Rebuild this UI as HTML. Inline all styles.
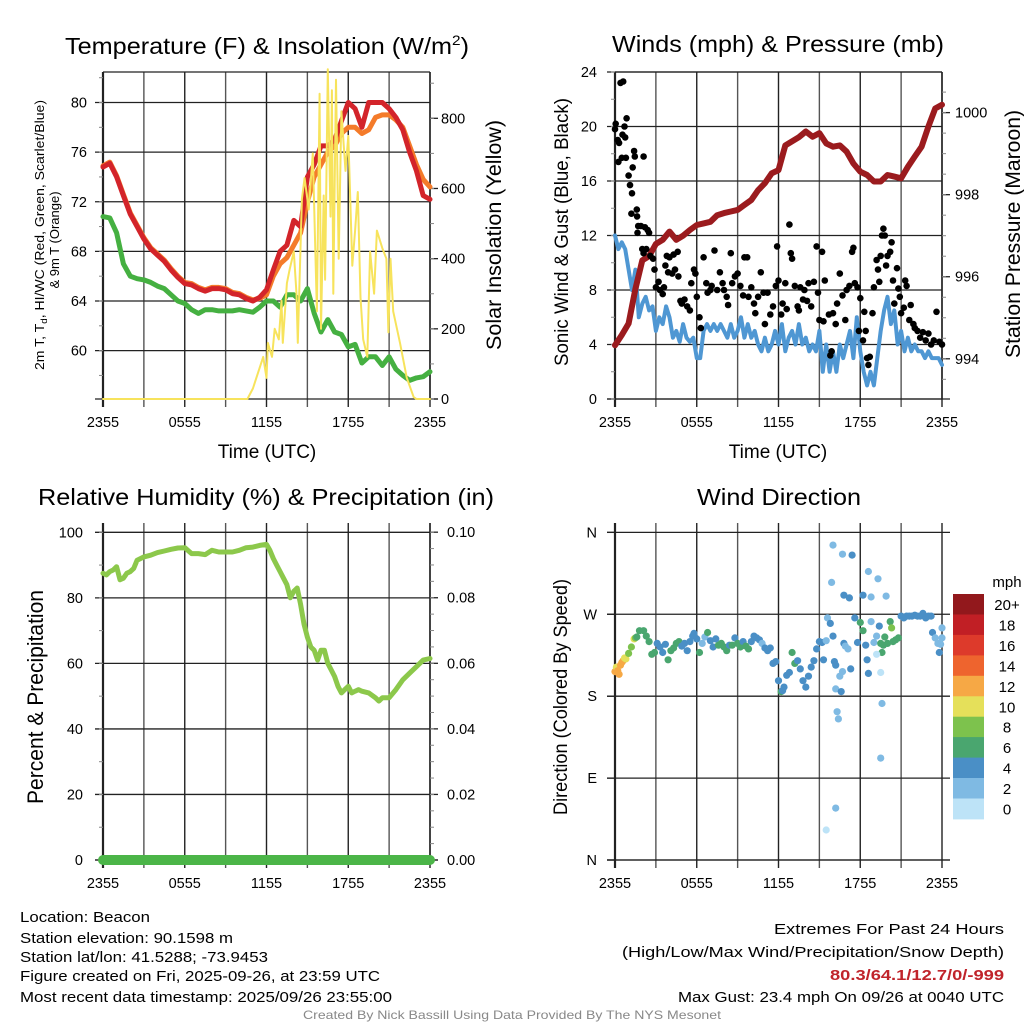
<!DOCTYPE html>
<html><head><meta charset="utf-8"><style>
html,body{margin:0;padding:0;background:#fff;}
svg{display:block;font-family:"Liberation Sans",sans-serif;}
</style></head><body>
<svg id="c" width="1024" height="1024" viewBox="0 0 1024 1024" xmlns="http://www.w3.org/2000/svg">
<rect width="1024" height="1024" fill="#fff"/>
<g id="layer"></g>
<text x="267" y="54" font-size="23" text-anchor="middle" textLength="404" lengthAdjust="spacingAndGlyphs">Temperature (F) &amp; Insolation (W/m<tspan font-size="14" dy="-9">2</tspan><tspan dy="9">)</tspan></text>
<text x="778" y="52" font-size="23" text-anchor="middle" textLength="332" lengthAdjust="spacingAndGlyphs">Winds (mph) &amp; Pressure (mb)</text>
<text x="266" y="505" font-size="23" text-anchor="middle" textLength="456" lengthAdjust="spacingAndGlyphs">Relative Humidity (%) &amp; Precipitation (in)</text>
<text x="779" y="505" font-size="23" text-anchor="middle" textLength="164" lengthAdjust="spacingAndGlyphs">Wind Direction</text>
<text x="267" y="458" font-size="19" text-anchor="middle">Time (UTC)</text>
<text x="778" y="458" font-size="19" text-anchor="middle">Time (UTC)</text>
<text transform="translate(44,235) rotate(-90)" font-size="13" text-anchor="middle" textLength="270" lengthAdjust="spacingAndGlyphs">2m T, T<tspan font-size="9" dy="3">d</tspan><tspan dy="-3">, HI/WC (Red, Green, Scarlet/Blue)</tspan></text>
<text transform="translate(59,240) rotate(-90)" font-size="13" text-anchor="middle">&amp; 9m T (Orange)</text>
<text transform="translate(501,235) rotate(-90)" font-size="21" text-anchor="middle" textLength="230" lengthAdjust="spacingAndGlyphs">Solar Insolation (Yellow)</text>
<text transform="translate(568,232) rotate(-90)" font-size="19" text-anchor="middle" textLength="268" lengthAdjust="spacingAndGlyphs">Sonic Wind &amp; Gust (Blue, Black)</text>
<text transform="translate(1020,234) rotate(-90)" font-size="21" text-anchor="middle" textLength="248" lengthAdjust="spacingAndGlyphs">Station Pressure (Maroon)</text>
<text transform="translate(43,697) rotate(-90)" font-size="22" text-anchor="middle" textLength="214" lengthAdjust="spacingAndGlyphs">Percent &amp; Precipitation</text>
<text transform="translate(567,697) rotate(-90)" font-size="19" text-anchor="middle" textLength="236" lengthAdjust="spacingAndGlyphs">Direction (Colored By Speed)</text>
<text x="1007" y="587" font-size="15" text-anchor="middle">mph</text>
<g font-size="15">
<text x="20" y="922" textLength="130" lengthAdjust="spacingAndGlyphs">Location: Beacon</text>
<text x="20" y="943" textLength="213" lengthAdjust="spacingAndGlyphs">Station elevation: 90.1598 m</text>
<text x="20" y="962" textLength="248" lengthAdjust="spacingAndGlyphs">Station lat/lon: 41.5288; -73.9453</text>
<text x="20" y="981" textLength="360" lengthAdjust="spacingAndGlyphs">Figure created on Fri, 2025-09-26, at 23:59 UTC</text>
<text x="20" y="1002" textLength="372" lengthAdjust="spacingAndGlyphs">Most recent data timestamp: 2025/09/26 23:55:00</text>
</g>
<g font-size="15">
<text x="774" y="934" textLength="230" lengthAdjust="spacingAndGlyphs">Extremes For Past 24 Hours</text>
<text x="622" y="957" textLength="382" lengthAdjust="spacingAndGlyphs">(High/Low/Max Wind/Precipitation/Snow Depth)</text>
<text x="830" y="980" font-weight="bold" fill="#c0242b" textLength="174" lengthAdjust="spacingAndGlyphs">80.3/64.1/12.7/0/-999</text>
<text x="678" y="1002" textLength="326" lengthAdjust="spacingAndGlyphs">Max Gust: 23.4 mph On 09/26 at 0040 UTC</text>
</g>
<text x="303" y="1019" font-size="12" fill="#888" textLength="418" lengthAdjust="spacingAndGlyphs">Created By Nick Bassill Using Data Provided By The NYS Mesonet</text>
</svg>
<script>
const halfHours = [0,0.5,1,1.5,2,2.5,3,3.5,4,4.5,5,5.5,6,6.5,7,7.5,8,8.5,9,9.5,10,10.5,11,11.5,12,12.5,13,13.5,14,14.5,15,15.5,16,16.5,17,17.5,18,18.5,19,19.5,20,20.5,21,21.5,22,22.5,23,23.5,24];
const tempRed = [74.8,75.1,74,72.5,71,70,69,68.2,67.7,67.2,66.5,65.9,65.4,65.3,65.0,64.8,65.0,65.0,64.9,64.6,64.5,64.2,64.0,64.3,64.9,66.5,68,68.5,70.5,70,74,75,76.5,76.5,77,78.5,80,79.5,78,80,80,80,79.5,78.8,77.8,76,74.5,72.5,72.2];
const temp9m = [74.9,75.2,74.1,72.6,71.1,70.1,69.1,68.3,67.8,67.3,66.6,66.0,65.5,65.4,65.1,64.9,65.1,65.1,65.0,64.7,64.6,64.3,64.1,64.2,64.5,66,67,67.5,68.5,69.5,72,74,75,76,76.5,77.5,78,78,77.5,77.8,78.8,79,79,78.6,78,76.5,75,73.8,73.2];
const dewpoint = [70.8,70.7,69.5,67,66,65.8,65.7,65.5,65.2,65,64.5,64,63.8,63.3,63,63.3,63.3,63.2,63.2,63.2,63.3,63.2,63.1,63.5,64,64,63.5,64.5,64.5,64,65,63,61.5,62.5,61.5,61.3,60.3,60.5,59,59.5,59.5,58.8,59.5,58.5,58,57.6,57.8,57.9,58.3];
const solarHours = [0,10.6,11.0,11.76,12.0,12.1,12.4,12.6,12.9,13.1,13.2,13.5,13.7,14.0,14.2,14.3,14.6,14.8,15.1,15.4,15.7,15.9,16.0,16.2,16.3,16.5,16.7,16.8,16.9,17.1,17.3,17.5,17.8,18.0,18.3,18.5,18.7,18.9,19.1,19.4,19.6,19.9,20.1,20.5,20.8,20.95,21.1,21.3,21.8,22.3,22.8,23.0,24];
const solarValues = [0,0,30,120,60,160,120,200,170,280,160,330,370,420,300,160,570,630,540,700,250,870,200,580,340,940,520,880,300,910,400,820,650,750,380,480,590,290,170,120,420,300,480,430,400,190,400,250,160,60,5,0,0];
const pressure = [994.33,994.58,994.86,995.7,996.4,996.5,996.8,996.9,997.1,996.9,997.0,997.14,997.26,997.3,997.34,997.5,997.55,997.59,997.63,997.75,997.87,998.11,998.28,998.52,998.6,999.2,999.3,999.4,999.54,999.41,999.5,999.25,999.17,999.2,999.05,998.76,998.56,998.48,998.32,998.32,998.48,998.44,998.4,998.68,998.93,999.17,999.66,1000.1,1000.19];
const windHours = [0,0.25,0.5,0.75,1,1.25,1.5,1.75,2,2.25,2.5,2.75,3,3.25,3.5,3.75,4,4.25,4.5,4.75,5,5.25,5.5,5.75,6,6.25,6.5,6.75,7,7.25,7.5,7.75,8,8.25,8.5,8.75,9,9.25,9.5,9.75,10,10.25,10.5,10.75,11,11.25,11.5,11.75,12,12.25,12.5,12.75,13,13.25,13.5,13.75,14,14.25,14.5,14.75,15,15.25,15.5,15.75,16,16.25,16.5,16.75,17,17.25,17.5,17.75,18,18.25,18.5,18.75,19,19.25,19.5,19.75,20,20.25,20.5,20.75,21,21.25,21.5,21.75,22,22.25,22.5,22.75,23,23.25,23.5,23.75,24];
const windSpeed = [12,11,11.5,11,9.5,8,9.5,6,7,7.5,6.5,6.8,5,6,5.5,6.8,6,4.5,5,4.2,5.5,4.5,4.2,4.5,3,3,5,5.5,5,5.5,5,5.5,5,4.5,5.5,4.5,5,6,4.5,5.5,4.5,5,4,3.5,4.5,3.5,4,5,4,5.5,3.5,4.5,5,4,5.5,4,4.5,3.5,4,3.5,5,2,4,2,3.5,2,4,3,4,5,3,6,3.5,2,1,2,1,3,5,6.5,7.5,5.5,6.5,4,5,3.5,4.5,3.5,4,3.5,3.5,3,3.5,3,3,3,2.5];
const gustHours = [0,0.05,0.2,0.3,0.25,0.4,0.6,0.55,0.75,0.7,0.85,0.5,0.8,1.0,1.1,1.25,1.3,1.4,1.45,1.2,1.6,1.62,1.65,1.7,1.9,2.1,2.2,2.4,2.5,2.0,2.1,2.3,2.6,2.8,2.9,3.0,3.2,3.3,3.5,3.6,3.7,3.8,3.9,4.0,4.2,4.3,4.4,4.6,4.65,4.8,4.9,5.1,5.3,5.5,5.6,5.8,5.9,6.0,6.2,6.3,6.5,6.7,6.8,7.0,7.1,7.3,7.5,7.7,7.9,8.0,8.2,8.3,8.5,8.6,8.8,9.0,9.2,9.4,9.5,9.7,9.8,10.0,10.2,10.3,10.5,10.7,10.9,11.0,11.2,11.4,11.6,11.8,11.9,12.0,12.2,12.3,12.5,12.6,12.8,12.9,13.0,13.2,13.4,13.5,13.6,13.8,13.9,14.1,14.2,14.4,14.6,14.8,14.9,15.0,15.2,15.3,15.4,15.7,15.8,15.9,16.0,16.2,16.3,16.5,16.7,16.9,17.0,17.2,17.4,17.5,17.6,17.8,17.9,18.0,18.2,18.3,18.4,18.5,18.6,18.7,18.9,19.0,19.2,19.3,19.4,19.5,19.6,19.7,19.8,19.9,20.0,20.2,20.3,20.4,20.5,20.7,20.8,20.9,21.0,21.2,21.3,21.4,21.6,21.7,21.9,22.0,22.2,22.4,22.6,22.8,23.0,23.2,23.4,23.6,23.8,24];
const gustValues = [19.8,20.2,19,18.8,17.4,23.2,23.3,19.4,19.2,20,20.6,17.7,17.7,16.4,15.7,15.1,17,18.2,17.8,13.6,13.9,13.4,12.2,12.7,12.7,17.8,12.6,12.4,12.2,11,10.7,11,10.5,10.3,9.5,8.2,8.6,8,7.7,8.2,9.8,10.5,9.3,10.4,9.2,10.6,9.5,10.8,9,7.2,7,7.3,6.8,6.5,8.5,9.5,9.2,7.5,6,5.2,10.4,8.5,7.8,8,8.3,10.9,8,9.3,8.5,8,7.5,6.9,10.7,8.5,9,9.2,8.3,7.6,10.4,10.4,7.5,8.2,7,6.3,7.5,9.3,7.8,5.5,7.8,6.2,6.8,8.3,11.2,8.7,6.2,7,8.5,6.6,12.8,10.7,10.3,8.3,6.8,6.5,8.2,7.3,8,7.2,8.5,6.8,8.6,11.2,7.8,5.8,10.8,5.7,8.7,6.2,3.2,3.5,6.3,5.5,7,9.2,7.6,5.8,8,8.3,10.8,11.1,8.5,8.2,5,7.4,4.3,6.4,5,3,2.5,3.1,6.3,8.2,10.2,9.5,8.6,10.5,12,12.5,12,9.8,10.5,10.8,11.5,8.7,7,9.6,8.1,7.5,6.3,6.7,8.7,8.3,5.8,6.9,5.5,5.2,5,4.5,4.9,4.3,4.8,4,4.3,6.4,4.2,4.0];
const rhHours = [0,0.25,0.5,0.75,1,1.25,1.5,1.75,2,2.25,2.5,3,3.5,4,4.5,5,5.5,6,6.5,7,7.5,8,8.5,9,9.5,10,10.5,11,11.5,12,12.25,12.5,12.75,13,13.25,13.5,13.75,14,14.25,14.5,14.75,15,15.25,15.5,15.75,16,16.25,16.5,16.75,17,17.25,17.5,17.75,18,18.25,18.5,18.75,19,19.5,20,20.25,20.5,20.75,21,21.5,22,22.5,23,23.5,24];
const rhValues = [87.5,87,88,88.5,89.5,85.5,86,87.5,88,89,91.5,92.5,93,93.8,94.3,94.8,95.2,95.3,93.5,93.5,93.2,94.5,94,94,94,94.5,95.3,95.5,96,96.3,94.5,92,90,88,86,84,80,82,83,78,72,68,65,64,61,64,64,60,58,56,53,51,52,53,51,51.5,52,51.5,51,49.5,48.5,49.5,49.5,49.5,52,55,57,59,61,61.5];
const precipHours = [0,24];
const precipValues = [0,0];
const dirHours = [0.0,0.1,0.2,0.3,0.4,0.5,0.6,0.7,0.8,1.0,1.2,1.4,1.5,1.6,1.8,2.1,2.3,2.5,2.7,2.9,3.1,3.3,3.5,3.7,3.9,4.1,4.3,4.5,4.7,4.9,5.1,5.3,5.5,5.7,5.8,6.0,6.2,6.4,6.6,6.8,7.0,7.2,7.4,7.6,7.8,8.0,8.2,8.4,8.6,8.8,9.0,9.2,9.4,9.6,9.8,10.0,10.2,10.4,10.6,10.8,11.0,11.2,11.4,11.6,11.8,12.0,12.2,12.3,12.4,12.6,12.8,13.0,13.2,13.4,13.6,13.8,14.0,14.2,14.4,14.6,14.8,15.0,15.2,15.3,15.5,15.6,15.8,16.0,16.1,16.2,16.5,16.8,16.9,17.1,17.3,17.6,17.8,18.0,18.2,18.4,18.5,18.6,18.8,19.0,19.2,19.4,19.5,19.6,19.7,19.8,20.0,20.2,20.3,20.4,20.6,20.8,21.0,21.2,21.4,21.6,21.8,22.0,22.2,22.4,22.6,22.8,23.0,23.2,23.3,23.5,23.7,23.8,23.9,24.0,24.0,16.0,16.7,17.4,18.6,19.3,15.9,16.8,17.2,18.2,18.8,19.9,16.2,15.5,19.5,19.6,16.2,16.6,16.3,16.4,16.7,19.5,19.2];
const dirDegrees = [207,212,208,204,214,217,219,222,221,227,234,243,244,245,252,252,246,240,226,228,238,234,228,237,220,230,233,238,240,235,238,230,240,246,249,243,228,238,245,250,241,234,243,236,238,234,230,236,236,244,238,234,240,235,232,240,246,244,242,238,233,230,233,216,218,197,185,186,190,203,206,228,216,219,210,197,190,202,212,219,232,240,239,220,241,266,260,246,218,214,202,238,235,232,210,266,239,261,252,236,220,205,262,239,246,257,238,228,236,245,238,262,255,240,242,244,268,266,268,268,268,269,268,268,271,266,268,268,250,244,238,228,237,244,255,346,336,335,317,309,305,291,288,291,289,290,57,33,112,172,188,185,163,155,207,206,226];
const dirSpeedBin = [6,5,6,6,6,6,6,5,5,4,4,5,4,3,3,3,3,3,3,3,2,2,2,2,3,3,3,3,3,2,2,2,2,2,2,2,3,1,1,3,2,2,2,3,3,3,3,2,3,2,3,3,2,3,3,2,2,2,2,1,2,2,2,2,2,2,3,2,2,2,2,3,3,2,2,2,2,2,2,2,2,2,2,2,1,1,2,2,2,2,1,2,1,1,2,2,2,3,3,2,2,2,1,1,1,2,3,3,3,3,3,3,4,3,3,3,2,2,2,2,2,2,2,2,2,2,2,2,2,1,1,2,1,1,1,1,1,2,1,1,1,2,2,2,1,1,1,0,1,1,1,2,1,1,1,0,0];
const speedColors = ["#bde3f7","#7fbae3","#4a8fc6","#4aa66f","#7dc24d","#e5e05a","#f6a845","#ee642e","#dd3a2b","#c11f25","#92181c"];
const speedLabels = ["0","2","4","6","8","10","12","14","16","18","20+"];
const tempTicks = [60,64,68,72,76,80];
const solarTicks = [0,200,400,600,800];
const windTicks = [0,4,8,12,16,20,24];
const pressureTicks = [994,996,998,1000];
const rhTicks = [0,20,40,60,80,100];
const precipTicks = [0,0.02,0.04,0.06,0.08,0.10];
const precipTickLabels = ["0.00","0.02","0.04","0.06","0.08","0.10"];
const dirTicks = [0,90,180,270,360];
const dirTickLabels = ["N","E","S","W","N"];
const timeTicks = [0,6,12,18,24];
const timeTickLabels = ["2355","0555","1155","1755","2355"];

const NS='http://www.w3.org/2000/svg';
const layer=document.getElementById('layer');
function mk(tag,attrs,parent){const e=document.createElementNS(NS,tag);for(const k in attrs)e.setAttribute(k,attrs[k]);(parent||layer).appendChild(e);return e;}

const P1={x0:103,x1:430,yt:72,yb:399};
const P2={x0:615,x1:942,yt:72,yb:399};
const P3={x0:103,x1:430,yt:523,yb:860};
const P4={x0:615,x1:942,yt:523,yb:860};
const tempDom=[56.1,82.46], solarDom=[0,932], windDom=[0,24], presDom=[993.02,1000.99], rhDom=[0,102.84], precipDom=[0,0.1028], dirDom=[0,370.3];
function X(p,h){return p.x0+h/24*(p.x1-p.x0);}
function Y(p,d,v){return p.yb-(v-d[0])/(d[1]-d[0])*(p.yb-p.yt);}

function frame(p,name,topLine){
  const g=mk('g',{});
  
  
  for(let h=0;h<=24;h+=3){
    const x=X(p,h);
    const v=mk('line',{x1:x,y1:p.yt,x2:x,y2:p.yb+8,stroke:(h%6===0)?'#222':'#555','stroke-width':(h===0)?2.2:1.4},g);
    
    
  }
  if(topLine){
    const t=mk('line',{x1:p.x0,y1:p.yt,x2:p.x1,y2:p.yt,stroke:'#222','stroke-width':1.3},g);
    
    
  }
  const b=mk('line',{x1:p.x0-8,y1:p.yb,x2:p.x1+8,y2:p.yb,stroke:'#222','stroke-width':1.3},g);
  
  
  for(let i=0;i<timeTicks.length;i++){
    const t=mk('text',{x:X(p,timeTicks[i]),y:p.yb+28,'font-size':14.5,'text-anchor':'middle'},g);
    
    
    t.textContent=timeTickLabels[i];
  }
}
function leftAxis(p,dom,ticks,labels,minorStep,name,grid,lx){
  const g=mk('g',{});
  
  
  for(let i=0;i<ticks.length;i++){
    const y=Y(p,dom,ticks[i]);
    const l=mk('line',{x1:p.x0-8,y1:y,x2:grid?p.x1:p.x0,y2:y,stroke:'#222','stroke-width':1.3},g);
    
    
    const t=mk('text',{x:lx,y:y+5,'font-size':14.5,'text-anchor':'end'},g);
    
    
    t.textContent=labels?labels[i]:String(ticks[i]);
  }
  if(minorStep){
    for(let v=Math.ceil(dom[0]/minorStep)*minorStep;v<=dom[1];v+=minorStep){
      const y=Y(p,dom,v);
      const m=mk('line',{x1:p.x0-4,y1:y,x2:p.x0,y2:y,stroke:'#888','stroke-width':1},g);
      
      
    }
  }
}
function rightAxis(p,dom,ticks,labels,minorStep,name,lx){
  const g=mk('g',{});
  
  
  const ax=mk('line',{x1:p.x1,y1:p.yt,x2:p.x1,y2:p.yb,stroke:'#222','stroke-width':1.5},g);
  
  
  for(let i=0;i<ticks.length;i++){
    const y=Y(p,dom,ticks[i]);
    const l=mk('line',{x1:p.x1,y1:y,x2:p.x1+8,y2:y,stroke:'#222','stroke-width':1.3},g);
    
    
    const t=mk('text',{x:lx,y:y+5,'font-size':14.5},g);
    
    
    t.textContent=labels?labels[i]:String(ticks[i]);
  }
  for(let v=Math.ceil(dom[0]/minorStep-1e-9)*minorStep;v<=dom[1];v+=minorStep){
    const y=Y(p,dom,v);
    const m=mk('line',{x1:p.x1,y1:y,x2:p.x1+4,y2:y,stroke:'#888','stroke-width':1},g);
    
    
  }
}
function line(p,dom,hs,vs,color,w,name){
  let d='';
  for(let i=0;i<hs.length;i++){d+=(i?'L':'M')+X(p,hs[i]).toFixed(1)+','+Y(p,dom,vs[i]).toFixed(1);}
  const e=mk('path',{d:d,fill:'none',stroke:color,'stroke-width':w,'stroke-linejoin':'round','stroke-linecap':'round'});
  
  
  return e;
}

frame(P1,'temperature',true);
leftAxis(P1,tempDom,tempTicks,null,2,'temperature-y-axis',true,87);
rightAxis(P1,solarDom,solarTicks,null,100,'solar-y-axis',441);
line(P1,tempDom,halfHours,dewpoint,'#45b041',5,'dewpoint-line');
line(P1,tempDom,halfHours,temp9m,'#f47b2a',5,'temperature-9m-line');
line(P1,tempDom,halfHours,tempRed,'#d3242a',5,'temperature-2m-line');
line(P1,solarDom,solarHours,solarValues,'#f7e35c',2,'solar-insolation-line');

frame(P2,'winds',true);
leftAxis(P2,windDom,windTicks,null,2,'wind-y-axis',true,597);
rightAxis(P2,presDom,pressureTicks,null,0.5,'pressure-y-axis',955);
line(P2,windDom,windHours,windSpeed,'#4f97d3',4,'sonic-wind-line');
line(P2,presDom,halfHours,pressure,'#9b1b1e',6,'pressure-line');
for(let i=0;i<gustHours.length;i++){
  const c=mk('circle',{cx:X(P2,gustHours[i]).toFixed(1),cy:Y(P2,windDom,gustValues[i]).toFixed(1),r:3.3,fill:'#000'});
  
  
}

frame(P3,'humidity',false);
leftAxis(P3,rhDom,rhTicks,null,10,'humidity-y-axis',true,83);
rightAxis(P3,precipDom,precipTicks,precipTickLabels,0.005,'precipitation-y-axis',447);
line(P3,rhDom,rhHours,rhValues,'#8cc84b',5,'relative-humidity-line');
line(P3,precipDom,precipHours,precipValues,'#4bb548',10,'precipitation-line');

frame(P4,'wind-direction',false);
leftAxis(P4,dirDom,dirTicks,dirTickLabels,0,'direction-y-axis',false,597);
const gl=mk('g',{});


for(let i=0;i<dirTicks.length;i++){
  const y=Y(P4,dirDom,dirTicks[i]);
  const l=mk('line',{x1:P4.x0-8,y1:y,x2:P4.x1+8,y2:y,stroke:'#222','stroke-width':1.3},gl);
  
  
}
for(let i=0;i<dirHours.length;i++){
  const col=speedColors[dirSpeedBin[i]]||'#7fbae3';
  const c=mk('circle',{cx:X(P4,dirHours[i]).toFixed(1),cy:Y(P4,dirDom,dirDegrees[i]).toFixed(1),r:3.6,fill:col});
  
  
}
const cb=mk('g',{});


const cbTop=594, cbH=20.45;
for(let i=0;i<speedColors.length;i++){
  const k=speedColors.length-1-i;
  const r=mk('rect',{x:953,y:(cbTop+i*cbH).toFixed(1),width:31,height:(cbH+0.5).toFixed(1),fill:speedColors[k]},cb);
  
  
  const t=mk('text',{x:1007,y:(cbTop+i*cbH+16).toFixed(1),'font-size':15,'text-anchor':'middle'},cb);
  
  
  t.textContent=speedLabels[k];
}
</script>
</body></html>
